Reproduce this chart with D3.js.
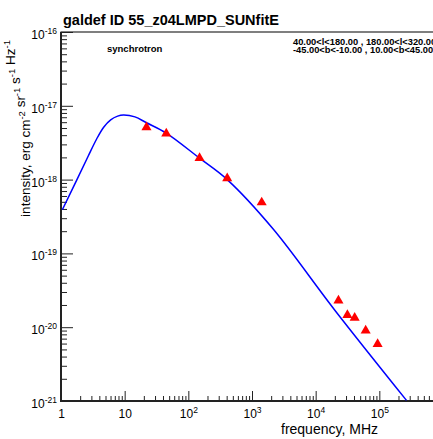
<!DOCTYPE html>
<html>
<head>
<meta charset="utf-8">
<script src="https://cdn.jsdelivr.net/npm/d3@7"></script>
<style>
    body { margin: 0; background: #fff; }
    svg { display: block; font-family: "Liberation Sans", Arial, Helvetica, sans-serif; }
</style>
</head>
<body>
<div class="canvas"><svg width="433" height="439"></svg></div>
<script>
// measured points (triangles), MHz and intensity
var pointFreq = [22, 45, 150, 408, 1420, 22800, 31500, 41000, 61000, 94000];
var pointIntensity = [5.1e-18, 4.2e-18, 1.96e-18, 1.04e-18, 4.9e-19, 2.3e-20, 1.46e-20, 1.34e-20, 9.0e-21, 5.9e-21];

// model curve (blue line)
var modelFreq = [1.05, 1.78, 2.68, 3.63, 4.68, 6.03, 7.76, 9.55, 14.5, 22, 45, 150, 408, 2150, 20000, 267000];
var modelIntensity = [3.9e-19, 1.0e-18, 2.09e-18, 3.55e-18, 5.13e-18, 6.46e-18, 7.24e-18, 7.5e-18, 7.08e-18, 5.89e-18, 4.27e-18, 1.95e-18, 1.0e-18, 2.14e-19, 1.7e-20, 1.02e-21];

// axis ticks
var xMajor = [1, 10, 100, 1e3, 1e4, 1e5];
var xLabels = ["1", "10", "10^2", "10^3", "10^4", "10^5"];
var yMajor = [1e-21, 1e-20, 1e-19, 1e-18, 1e-17, 1e-16];
var yLabels = ["10^-21", "10^-20", "10^-19", "10^-18", "10^-17", "10^-16"];

var title = "galdef ID 55_z04LMPD_SUNfitE";
var regionText = ["40.00<l<180.00 , 180.00<l<320.00", "-45.00<b<-10.00 , 10.00<b<45.00"];

var width = 433;
var height = 439;
var padL = 61, padR = 443, padT = 32, padB = 401;

var svg = d3.select(".canvas").select("svg");

var scaleX = d3.scaleLog().domain([1, 1e6]).range([padL, padR]);
var scaleY = d3.scaleLog().domain([1e-21, 1e-16]).range([padB, padT]);

//minor tick values
var xMinor = [];
for (var e = 0; e < 6; e++) {
    for (var m = 2; m < 10; m++) xMinor.push(m * Math.pow(10, e));
}
var yMinor = [];
for (var e = -21; e < -16; e++) {
    for (var m = 2; m < 10; m++) yMinor.push(m * Math.pow(10, e));
}

function supLabel(sel, size) {
    sel.each(function(d, i) {
        var t = d3.select(this);
        var s = t.text();
        t.text("");
        var parts = s.split("^");
        t.append("tspan").text(parts[0]);
        if (parts.length > 1) {
            t.append("tspan").attr("dy", -5).style("font-size", size + "px").text(parts[1]);
        }
    });
}

// clip for the curve
svg.append("clipPath").attr("id", "plotclip")
    .append("rect")
    .attr("x", padL).attr("y", padT)
    .attr("width", padR - padL).attr("height", padB - padT);

// frame
svg.append("rect")
    .attr("x", padL).attr("y", padT)
    .attr("width", padR - padL).attr("height", padB - padT)
    .attr("fill", "none")
    .attr("stroke", "#000")
    .attr("stroke-width", 1);

// y axis minor + major ticks
var yMinorAxis = svg.append("g").attr("class", "axis")
    .attr("transform", "translate(" + padL + ",0)")
    .call(d3.axisLeft(scaleY).tickValues(yMinor).tickSize(-6).tickFormat(""));
yMinorAxis.select(".domain").remove();

var yAxis = svg.append("g").attr("class", "axis axis-y")
    .attr("transform", "translate(" + padL + ",0)")
    .call(d3.axisLeft(scaleY).tickValues(yMajor).tickSize(-12).tickPadding(4)
        .tickFormat(function(d, i) { return yLabels[i]; }));
yAxis.select(".domain").remove();
yAxis.selectAll("text")
    .attr("dy", 6.5)
    .style("font-size", "12px")
    .call(supLabel, 8.5);

// x axis
var xMinorAxis = svg.append("g").attr("class", "axis")
    .attr("transform", "translate(0," + padB + ")")
    .call(d3.axisBottom(scaleX).tickValues(xMinor).tickSize(-5).tickFormat(""));
xMinorAxis.select(".domain").remove();

var xAxis = svg.append("g").attr("class", "axis axis-x")
    .attr("transform", "translate(0," + padB + ")")
    .call(d3.axisBottom(scaleX).tickValues(xMajor).tickSize(-10)
        .tickFormat(function(d, i) { return xLabels[i]; }));
xAxis.select(".domain").remove();
xAxis.selectAll("text")
    .attr("y", 16.5)
    .attr("dy", 0)
    .style("font-size", "12px")
    .call(supLabel, 8.5);

svg.selectAll(".axis line").attr("stroke", "#222");
svg.selectAll(".axis text").attr("fill", "#000");

// thick axis lines
svg.append("line")
    .attr("x1", padL).attr("x2", padL)
    .attr("y1", padT).attr("y2", padB + 1)
    .attr("stroke", "#222").attr("stroke-width", 2);
svg.append("line")
    .attr("x1", padL - 1).attr("x2", padR)
    .attr("y1", padB).attr("y2", padB)
    .attr("stroke", "#222").attr("stroke-width", 2);

// model line
var modelData = modelFreq.map(function(f, i) { return {f: f, v: modelIntensity[i]}; });
var line = d3.line()
    .x(function(d) { return scaleX(d.f); })
    .y(function(d) { return scaleY(d.v); })
    .curve(d3.curveCatmullRom.alpha(0.5));

svg.append("path")
    .datum(modelData)
    .attr("clip-path", "url(#plotclip)")
    .attr("d", line)
    .attr("fill", "none")
    .attr("stroke", "#0000ff")
    .attr("stroke-width", 1.5);

// data triangles
var pointData = pointFreq.map(function(f, i) { return {f: f, v: pointIntensity[i]}; });
svg.append("g").selectAll("path")
    .data(pointData)
    .enter()
    .append("path")
    .attr("d", d3.symbol().type(d3.symbolTriangle).size(44))
    .attr("transform", function(d) {
        return "translate(" + scaleX(d.f) + "," + scaleY(d.v) + ")";
    })
    .attr("fill", "#ff0000");

// texts
svg.append("text")
    .attr("x", 63).attr("y", 25)
    .style("font-size", "14.5px")
    .style("font-weight", "bold")
    .text(title);

svg.append("text")
    .attr("x", 107).attr("y", 52)
    .style("font-size", "9.5px")
    .style("font-weight", "bold")
    .text("synchrotron");

svg.append("g").selectAll("text")
    .data(regionText)
    .enter()
    .append("text")
    .attr("x", 293)
    .attr("y", function(d, i) { return 45 + i * 7.5; })
    .style("font-size", "9.3px")
    .style("font-weight", "bold")
    .text(function(d) { return d; });

// axis titles
var yt = svg.append("text")
    .attr("transform", "translate(30,40) rotate(-90)")
    .attr("text-anchor", "end")
    .style("font-size", "13.5px");
var ytParts = [["intensity, erg cm", "-2"], [" sr", "-1"], [" s", "-1"], [" Hz", "-1"]];
ytParts.forEach(function(p) {
    yt.append("tspan").text(p[0]);
    yt.append("tspan").attr("dy", -5).style("font-size", "9.5px").text(p[1]);
    yt.append("tspan").attr("dy", 5).text("");
});

svg.append("text")
    .attr("x", 378).attr("y", 434)
    .attr("text-anchor", "end")
    .style("font-size", "14px")
    .text("frequency, MHz");
</script>
</body>
</html>
